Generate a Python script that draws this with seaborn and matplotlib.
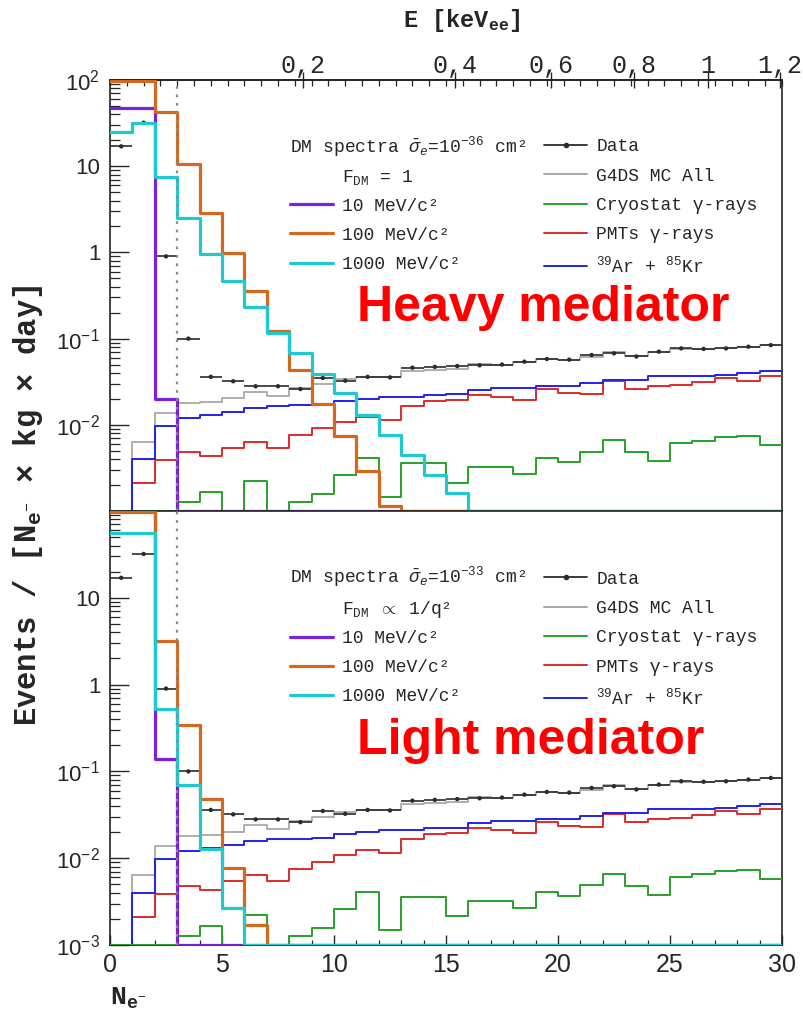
import numpy as np
import pandas as pd
import matplotlib
matplotlib.use("Agg")
import matplotlib.pyplot as plt
from matplotlib.lines import Line2D
from matplotlib.ticker import FixedLocator, FuncFormatter, LogLocator, NullFormatter, MultipleLocator
import seaborn as sns

# ---------------------------------------------------------------- data
# Spectra per bin of 1 extracted electron, bins [0,1), [1,2), ..., [29,30)
ne_edges = np.arange(0, 31)

data_rate = [17, 32, 0.9, 0.1, 0.036, 0.032, 0.028, 0.028, 0.026, 0.035,
             0.0325, 0.036, 0.0355, 0.046, 0.047, 0.048, 0.049, 0.05, 0.054, 0.058,
             0.057, 0.0645, 0.0675, 0.062, 0.0705, 0.077, 0.076, 0.077, 0.0805, 0.084]
mc_all = [0, 0.0064, 0.0138, 0.0178, 0.0185, 0.0203, 0.0242, 0.0216, 0.0265, 0.0297,
          0.0337, 0.036, 0.036, 0.0424, 0.043, 0.044, 0.0507, 0.05, 0.054, 0.058,
          0.056, 0.061, 0.0705, 0.062, 0.07, 0.076, 0.076, 0.077, 0.08, 0.084]
cryostat = [0, 0, 0, 0.00128, 0.00165, 0, 0.0022, 0, 0.00128, 0.00157,
            0.00262, 0.0041, 0.00147, 0.0036, 0.0036, 0.00213, 0.0032, 0.0032, 0.0027, 0.0041,
            0.0037, 0.0049, 0.0066, 0.0048, 0.0038, 0.0061, 0.0065, 0.0072, 0.0074, 0.0058]
pmts = [0, 0.0021, 0.0039, 0.0048, 0.0043, 0.0054, 0.0064, 0.0054, 0.0076, 0.0091,
        0.0109, 0.0124, 0.0114, 0.0166, 0.019, 0.0195, 0.022, 0.021, 0.0194, 0.0258,
        0.0235, 0.023, 0.0325, 0.0258, 0.028, 0.0288, 0.0316, 0.0346, 0.0325, 0.0368]
ar_kr = [0, 0.004, 0.0098, 0.012, 0.013, 0.0142, 0.0158, 0.0166, 0.0168, 0.0173,
         0.019, 0.02, 0.021, 0.021, 0.022, 0.0225, 0.0255, 0.0265, 0.0265, 0.0284,
         0.0284, 0.0303, 0.033, 0.033, 0.0368, 0.037, 0.037, 0.038, 0.040, 0.0424]

# DM signal, heavy mediator (F_DM = 1, sigma_e = 1e-36 cm^2)
heavy_10 = [47, 47, 0.020] + [0] * 27
heavy_100 = [98, 98, 42, 10.5, 2.9, 0.99, 0.36, 0.124, 0.043, 0.0174,
             0.0074, 0.0029, 0.00114] + [0] * 17
heavy_1000 = [25, 32, 7.4, 2.5, 0.97, 0.46, 0.23, 0.115, 0.0675, 0.0388,
              0.0236, 0.013, 0.0076, 0.0045, 0.0026, 0.0016] + [0] * 14

# DM signal, light mediator (F_DM ~ 1/q^2, sigma_e = 1e-33 cm^2)
light_10 = [400, 400, 0.14] + [0] * 27
light_100 = [98, 98, 3.2, 0.34, 0.0485, 0.0078, 0.0017] + [0] * 23
light_1000 = [56, 56, 0.53, 0.069, 0.0129, 0.0027] + [0] * 24

# Energy scale on the top axis: labels and their position in N_e-
e_tick_labels = ["0,2", "0,4", "0,6", "0,8", "1", "1,2"]
e_tick_ne = [8.6, 15.4, 19.7, 23.4, 26.7, 29.9]

# ---------------------------------------------------------------- style
sns.set_theme(style="ticks")
plt.rcParams.update({
    "font.family": ["Liberation Sans", "DejaVu Sans"],
    "mathtext.fontset": "custom",
    "mathtext.rm": "Liberation Mono",
    "mathtext.it": "Liberation Mono:italic",
    "mathtext.bf": "Liberation Mono:bold",
    "mathtext.sf": "Liberation Sans",
    "axes.linewidth": 1.2,
    "axes.edgecolor": "#222222",
})

C_DATA = "#2b2b2b"
C_MC = "#a8a8a8"
C_CRYO = "#27a127"
C_PMT = "#dd2a2a"
C_ARKR = "#2020ee"
C_10 = "#7a22d8"
C_100 = "#d2691e"
C_1000 = "#22c8d0"

YMIN, YMAX = 1e-3, 1e2
MONO = ["Liberation Mono", "DejaVu Sans Mono"]

fig = plt.figure(figsize=(8.04, 10.11), dpi=100)
L, R = 110 / 804, 782 / 804
ax_top = fig.add_axes([L, 1 - 511 / 1011, R - L, (511 - 80) / 1011])
ax_bot = fig.add_axes([L, 1 - 945 / 1011, R - L, (945 - 511) / 1011])


def step(ax, vals, color, lw, z):
    v = np.asarray(vals, dtype=float)
    v = np.where(v > 0, v, YMIN)          # empty bins lie on the lower frame
    df = pd.DataFrame({"ne": ne_edges, "rate": np.append(v, v[-1])})
    sns.lineplot(data=df, x="ne", y="rate", drawstyle="steps-post", color=color,
                 lw=lw, ax=ax, zorder=z, estimator=None, sort=False, legend=False)


def ytick_label(v, _):
    lab = {100: r"$\mathsf{10^{2}}$", 10: "10", 1: "1", 0.1: r"$\mathsf{10^{-1}}$",
           0.01: r"$\mathsf{10^{-2}}$", 0.001: r"$\mathsf{10^{-3}}$"}
    for k, s in lab.items():
        if np.isclose(v, k):
            return s
    return ""


centers = ne_edges[:-1] + 0.5
panels = [
    (ax_top, heavy_10, heavy_100, heavy_1000, -36, r"F$_{\rm DM}$ = 1", "Heavy mediator", [100, 10, 1, 0.1, 0.01]),
    (ax_bot, light_10, light_100, light_1000, -33, r"F$_{\rm DM}$ $\propto$ 1/q²", "Light mediator", [10, 1, 0.1, 0.01, 0.001]),
]

FS = 13
HL, HTP = 2.4, 0.5
LSP = 0.68
legend_kw = dict(frameon=False, borderpad=0, borderaxespad=0, handlelength=HL,
                 handletextpad=HTP, labelspacing=LSP,
                 prop={"family": MONO, "size": FS})

for ax, s10, s100, s1000, expo, fdm, title, ylabs in panels:
    ax.set_yscale("log")
    ax.set_xlim(0, 30)
    ax.set_ylim(YMIN, YMAX)

    step(ax, mc_all, C_MC, 1.3, 2)
    step(ax, pmts, C_PMT, 1.4, 3)
    step(ax, ar_kr, C_ARKR, 1.4, 3)
    step(ax, cryostat, C_CRYO, 1.4, 4)
    step(ax, s10, C_10, 2.3, 6)
    step(ax, s100, C_100, 2.3, 7)
    step(ax, s1000, C_1000, 2.3, 8)

    ax.errorbar(centers, data_rate, xerr=0.5, fmt="none", ecolor=C_DATA,
                elinewidth=1.2, zorder=5)
    sns.scatterplot(x=centers, y=data_rate, ax=ax, color=C_DATA, s=10,
                    edgecolor="none", zorder=5, legend=False)

    ax.axvline(3, color="#8a8a8a", lw=1.6, ls=(0, (1.2, 2.6)), zorder=9)

    ax.set_xlabel("")
    ax.set_ylabel("")
    ax.yaxis.set_major_locator(FixedLocator(ylabs))
    ax.yaxis.set_major_formatter(FuncFormatter(ytick_label))
    ax.yaxis.set_minor_locator(LogLocator(base=10, subs=np.arange(2, 10), numticks=20))
    ax.yaxis.set_minor_formatter(NullFormatter())
    ax.tick_params(axis="y", which="major", direction="in", length=14, width=1.0,
                   labelsize=16, pad=7, right=False)
    ax.tick_params(axis="y", which="minor", direction="in", length=7, width=0.9, right=False)
    ax.xaxis.set_major_locator(MultipleLocator(5))
    ax.xaxis.set_minor_locator(MultipleLocator(1))
    ax.tick_params(axis="x", which="major", direction="in", length=7, width=1.0,
                   labelsize=18, pad=6, top=False)
    ax.tick_params(axis="x", which="minor", direction="in", length=3.6, width=0.9, top=False)
    for sp in ax.spines.values():
        sp.set_visible(True)

    ax.text(0.367, 0.441, title, transform=ax.transAxes, ha="left", va="baseline",
            fontsize=36, fontweight="bold", color="#ff0000",
            family=["Liberation Sans", "DejaVu Sans"], zorder=10)

    # legend, left block: DM signal spectra with a two-line heading
    em = FS * fig.dpi / 72
    blank = Line2D([], [], color="none")
    header = r"DM spectra $\bar{\sigma}_{e}$=10$^{%d}$ cm²" % expo
    leg_dm = ax.legend(
        [blank, blank,
         Line2D([], [], color=C_10, lw=2.3),
         Line2D([], [], color=C_100, lw=2.3),
         Line2D([], [], color=C_1000, lw=2.3)],
        [header, fdm, "10 MeV/c²", "100 MeV/c²", "1000 MeV/c²"],
        loc="lower left", bbox_to_anchor=(0.268, 0.552), **legend_kw)
    head_txt = leg_dm.get_texts()[0]
    head_txt.set_x(-(HL + HTP) * em)   # heading starts where the line keys start
    head_txt.set_y(-5)
    leg_dm.get_texts()[1].set_y(-2)
    leg_dm.set_zorder(11)
    ax.add_artist(leg_dm)

    # legend, right block: data and background components
    leg_bg = ax.legend(
        [Line2D([], [], color=C_DATA, lw=1.3, marker="o", ms=3),
         Line2D([], [], color=C_MC, lw=1.4),
         Line2D([], [], color=C_CRYO, lw=1.4),
         Line2D([], [], color=C_PMT, lw=1.4),
         Line2D([], [], color=C_ARKR, lw=1.4)],
        ["Data", "G4DS MC All", "Cryostat γ-rays", "PMTs γ-rays",
         r"$^{39}$Ar + $^{85}$Kr"],
        loc="lower left", bbox_to_anchor=(0.6458, 0.545), **legend_kw)
    leg_bg.set_zorder(11)

# bottom panel axis numbers and title
ax_top.tick_params(axis="x", labelbottom=False, bottom=False, which="both")
ax_bot.set_xlabel(r"N$_{\mathbf{e}^{-}}$", loc="left", fontsize=19,
                  fontweight="bold", family="Liberation Mono", labelpad=6)

# energy scale along the top of the upper panel
sec = ax_top.secondary_xaxis("top")
sec.xaxis.set_major_locator(FixedLocator(e_tick_ne))
sec.set_xticklabels(e_tick_labels, family="Liberation Mono", fontsize=18)
sec.xaxis.set_minor_locator(MultipleLocator(0.75))
sec.tick_params(axis="x", which="major", direction="inout", length=11, width=1.0, pad=-4)
sec.tick_params(axis="x", which="minor", direction="in", length=4, width=0.9)

fig.text(462 / 804, 1 - 21 / 1011, r"E [keV$_{\mathbf{ee}}$]", ha="center", va="center",
         fontsize=17, fontweight="bold", family="Liberation Mono")

fig.text(28 / 804, 1 - 505 / 1011, r"Events / [N$_{\mathbf{e}^{-}}$ × kg × day]",
         rotation=90, ha="center", va="center", fontsize=22, fontweight="bold",
         family="Liberation Mono")

fig.savefig("out.png", dpi=100)
